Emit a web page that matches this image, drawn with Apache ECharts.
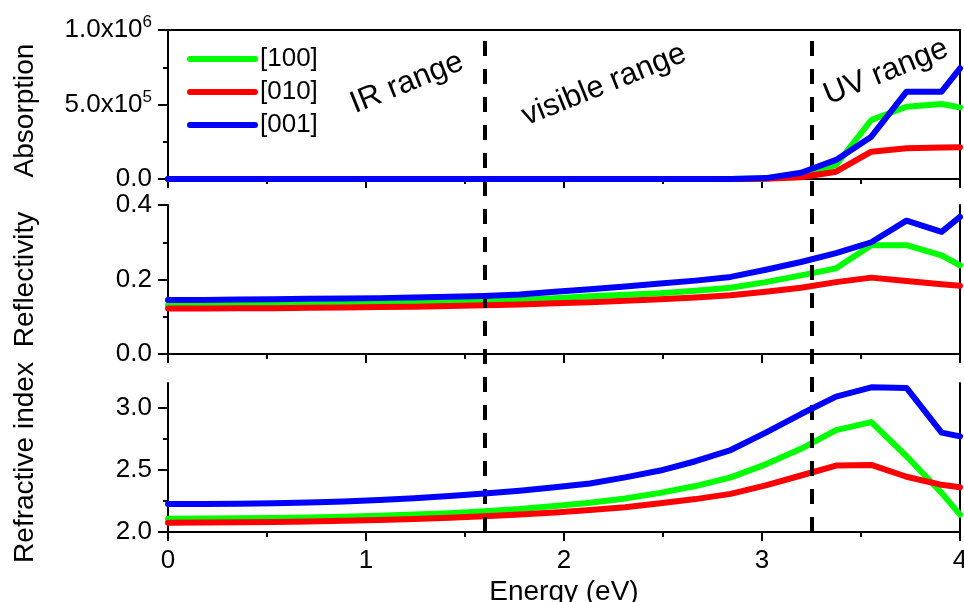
<!DOCTYPE html>
<html><head><meta charset="utf-8">
<script src="https://cdn.jsdelivr.net/npm/echarts@6/dist/echarts.min.js"></script>
<style>html,body{margin:0;padding:0;background:#fff}#c{width:964px;height:602px}</style>
</head><body><div id="c"></div>
<script>
// ---- data ----
const energy = [0, 0.178, 0.355, 0.533, 0.710, 0.888, 1.066, 1.243, 1.421, 1.598, 1.776, 1.954,
  2.131, 2.309, 2.486, 2.664, 2.842, 3.019, 3.197, 3.374, 3.552, 3.730, 3.907, 4.0];
const seriesNames = ['[100]', '[010]', '[001]'];

const absorption100 = [0,0,0,0,0,0,0,0,0,0,0,0,0,0,0,0,0, 4000, 30000, 94000, 396000, 485000, 503000, 481000];
const absorption010 = [0,0,0,0,0,0,0,0,0,0,0,0,0,0,0,0,0, 2000, 12000, 49000, 183000, 206000, 212000, 213000];
const absorption001 = [0,0,0,0,0,0,0,0,0,0,0,0,0,0,0,0,0, 6000, 42000, 128000, 284000, 586000, 586000, 743000];

const reflect100 = [0.131,0.131,0.132,0.132,0.133,0.134,0.135,0.137,0.139,0.142,0.145,0.150,0.155,0.159,0.163,0.170,0.178,0.193,0.211,0.230,0.292,0.292,0.265,0.238];
const reflect010 = [0.122,0.122,0.123,0.123,0.124,0.125,0.126,0.127,0.129,0.131,0.133,0.136,0.139,0.143,0.147,0.152,0.158,0.167,0.178,0.193,0.205,0.196,0.187,0.183];
const reflect001 = [0.145,0.145,0.146,0.147,0.148,0.149,0.150,0.152,0.154,0.156,0.160,0.167,0.174,0.181,0.189,0.197,0.207,0.226,0.247,0.271,0.300,0.358,0.328,0.368];

const refr100 = [2.107,2.108,2.110,2.113,2.117,2.122,2.130,2.140,2.152,2.168,2.185,2.210,2.235,2.270,2.315,2.370,2.440,2.545,2.670,2.820,2.885,2.610,2.315,2.140];
const refr010 = [2.075,2.076,2.078,2.081,2.085,2.090,2.097,2.105,2.115,2.127,2.140,2.157,2.177,2.200,2.232,2.265,2.307,2.375,2.455,2.535,2.540,2.445,2.380,2.360];
const refr001 = [2.225,2.226,2.228,2.232,2.238,2.246,2.258,2.272,2.290,2.310,2.333,2.360,2.390,2.440,2.495,2.570,2.660,2.800,2.950,3.090,3.165,3.160,2.800,2.770];

const rangeBoundaries = [1.6, 3.255];
const rangeLabels = ['IR range', 'visible range', 'UV range'];
const xTicks = [0, 1, 2, 3, 4];
const yTitles = ['Absorption', 'Reflectivity', 'Refractive index'];
const xTitle = 'Energy (eV)';
const refrMajorTicks = [2.0, 2.5, 3.0];
const refrMinorTicks = [2.25, 2.75];

// ---- chart ----
const FONT = '"Liberation Sans", Arial, sans-serif';
const colors = ['#00ff00', '#ff0000', '#0000ff'];
const chart = echarts.init(document.getElementById('c'), null, {renderer: 'canvas'});

const gridBase = {left: 168, right: 4, containLabel: false, outerBoundsMode: 'none'};
const grids = [
  Object.assign({top: 30, height: 149}, gridBase),
  Object.assign({top: 205, height: 149}, gridBase),
  Object.assign({top: 383, height: 149}, gridBase),
  Object.assign({top: 38, height: 494}, gridBase)
];
const lineStyleAxis = {color: '#000', width: 2};
const TICKFONT = 26;

function xAxisFor(gi, showLabels) {
  return {
    type: 'value', gridIndex: gi, min: xTicks[0], max: xTicks[xTicks.length - 1], interval: 1,
    axisLine: {show: true, onZero: false, lineStyle: lineStyleAxis},
    axisTick: {show: true, inside: false, length: 9, lineStyle: {color: '#000', width: 2}},
    minorTick: {show: true, splitNumber: 2, length: 5, lineStyle: {color: '#000', width: 2}},
    splitLine: {show: false},
    axisLabel: {show: showLabels, color: '#000', fontSize: TICKFONT, fontFamily: FONT, margin: 16, hideOverlap: false},
    name: showLabels ? xTitle : '', nameLocation: 'middle', nameGap: 46,
    nameTextStyle: {color: '#000', fontSize: 28, fontFamily: FONT}
  };
}
function yAxisFor(gi, min, max, interval, title, formatter, namePad) {
  return {
    type: 'value', gridIndex: gi, min: min, max: max, interval: interval, position: 'left',
    axisLine: {show: true, onZero: false, lineStyle: lineStyleAxis},
    axisTick: {show: true, inside: false, length: 10, lineStyle: {color: '#000', width: 2}},
    minorTick: {show: true, splitNumber: 2, length: 5, lineStyle: {color: '#000', width: 2}},
    splitLine: {show: false},
    axisLabel: {show: true, color: '#000', fontSize: TICKFONT, fontFamily: FONT, margin: 16, formatter: formatter},
    name: title, nameLocation: 'middle', nameGap: 129, nameRotate: 90,
    nameTextStyle: {color: '#000', fontSize: 28, fontFamily: FONT, padding: namePad || 0}
  };
}
function rightLine(gi, min, max) {
  return {type: 'value', gridIndex: gi, min: min, max: max, position: 'right',
    axisLine: {show: true, onZero: false, lineStyle: lineStyleAxis},
    axisTick: {show: false}, axisLabel: {show: false}, splitLine: {show: false}};
}

function sciFormatter(v) {
  if (v === 0) return '{b|0.0}';
  const e = Math.floor(Math.log10(v));
  const m = v / Math.pow(10, e);
  return '{b|' + m.toFixed(1) + 'x10}{s|' + e + '}';
}
const sciRich = {
  b: {fontSize: TICKFONT, fontFamily: FONT, color: '#000', lineHeight: 32},
  s: {fontSize: 17, fontFamily: FONT, color: '#000', lineHeight: 16, verticalAlign: 'top'}
};

const xAxes = [
  xAxisFor(0, false), xAxisFor(1, false), xAxisFor(2, true),
  {type: 'value', gridIndex: 3, min: 0, max: 4, show: false},
  {type: 'value', gridIndex: 0, min: 0, max: 4, position: 'top',
   axisLine: {show: true, onZero: false, lineStyle: lineStyleAxis},
   axisTick: {show: false}, axisLabel: {show: false}, splitLine: {show: false}}
];
const topY = yAxisFor(0, 0, 1000000, 500000, yTitles[0], sciFormatter, [0, 12, 0, 0]);
topY.axisLabel.rich = sciRich;
const bottomY = yAxisFor(2, 2.0, 3.2, 0.5, yTitles[2], v => v.toFixed(1), [0, 10, 0, 0]);
bottomY.minorTick = {show: false};
bottomY.axisTick.customValues = refrMajorTicks;
bottomY.axisLabel.customValues = refrMajorTicks;
const yAxes = [
  topY,
  yAxisFor(1, 0, 0.4, 0.2, yTitles[1], v => v.toFixed(1)),
  bottomY,
  {type: 'value', gridIndex: 3, min: 0, max: 1, show: false},
  rightLine(0, 0, 1000000), rightLine(1, 0, 0.4), rightLine(2, 2.0, 3.2),
  {type: 'value', gridIndex: 2, min: 2.0, max: 3.2, position: 'left',
   axisLine: {show: false}, axisLabel: {show: false}, splitLine: {show: false},
   axisTick: {show: true, inside: false, length: 5, customValues: refrMinorTicks, lineStyle: {color: '#000', width: 2}}}
];

const panels = [
  [absorption100, absorption010, absorption001],
  [reflect100, reflect010, reflect001],
  [refr100, refr010, refr001]
];
const series = [];
panels.forEach((arrs, gi) => {
  arrs.forEach((arr, k) => {
    series.push({
      type: 'line', name: seriesNames[k], xAxisIndex: gi, yAxisIndex: gi,
      data: energy.map((e, i) => [e, arr[i]]),
      symbol: 'none', showSymbol: false, clip: true,
      lineStyle: {color: colors[k], width: 6, cap: 'round', join: 'round'},
      itemStyle: {color: colors[k]}, z: 3 + k
    });
  });
});
series.push({
  type: 'line', xAxisIndex: 3, yAxisIndex: 3, data: [], silent: true,
  markLine: {
    silent: true, symbol: ['none', 'none'], label: {show: false},
    lineStyle: {color: '#000', width: 4, type: [15, 13], cap: 'butt'},
    emphasis: {disabled: true},
    data: rangeBoundaries.map(v => ({xAxis: v}))
  }, z: 10
});

const textPos = [[407, 83], [604, 85], [886, 72]];
const graphic = rangeLabels.map((t, i) => ({
  type: 'text', x: textPos[i][0], y: textPos[i][1], rotation: 22 * Math.PI / 180,
  style: {text: t, font: '31px ' + FONT, fill: '#000', align: 'center', verticalAlign: 'middle'},
  z: 20
}));

chart.setOption({
  animation: false,
  backgroundColor: '#fff',
  grid: grids,
  xAxis: xAxes,
  yAxis: yAxes,
  legend: {
    data: seriesNames, orient: 'vertical', left: 187, top: 46, padding: 0,
    itemWidth: 65, itemHeight: 25, itemGap: 7,
    itemStyle: {opacity: 0},
    lineStyle: {width: 6, cap: 'round'},
    textStyle: {color: '#000', fontSize: 26, fontFamily: FONT},
    selectedMode: false
  },
  series: series,
  graphic: graphic
});
</script></body></html>
